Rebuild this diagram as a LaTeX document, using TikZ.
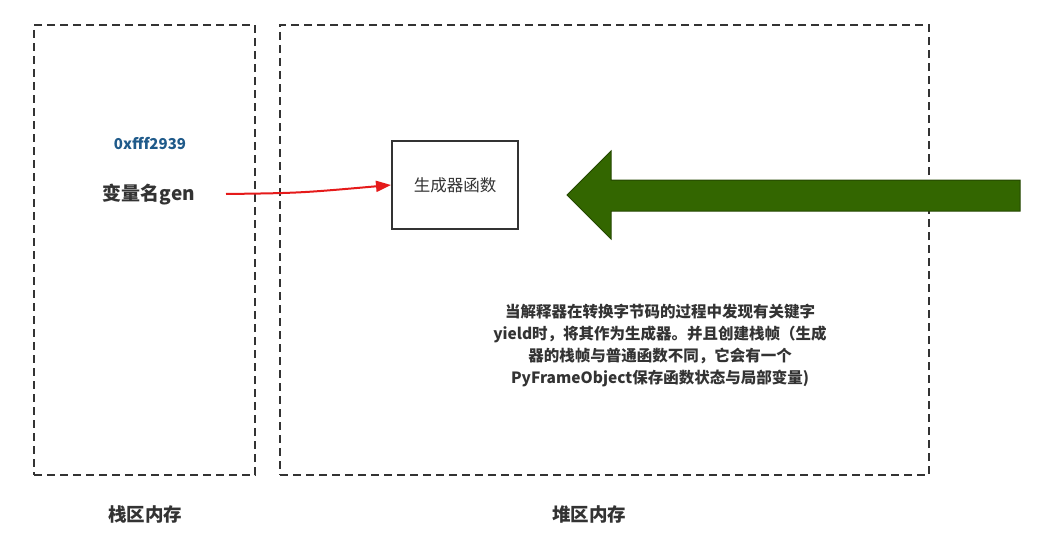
\documentclass[tikz,border=0pt]{standalone}
\usepackage{fontspec}
\setmainfont{Noto Sans CJK SC}
\usepackage{tikz}
\usetikzlibrary{arrows.meta}
\definecolor{txtgray}{HTML}{333333}
\definecolor{addrblue}{HTML}{1F5A8A}
\definecolor{arrowgreen}{HTML}{336600}
\definecolor{arrowred}{HTML}{E51A1A}

\begin{document}
\begin{tikzpicture}[x=1pt,y=-1pt,
memarea/.style={draw=txtgray,line width=2.2pt,dash pattern=on 8pt off 5pt,inner sep=0pt},
areaname/.style={font=\fontsize{18.5}{22}\selectfont\bfseries,text=txtgray},
funcbox/.style={draw=txtgray,line width=2pt,minimum width=126pt,minimum height=88pt,
  font=\fontsize{16.5}{20}\selectfont,text=txtgray}]
\useasboundingbox (0,0) rectangle (1059,538);
\node[memarea,minimum width=221pt,minimum height=450pt] (stack) at (144.5,250) {};
\node[memarea,minimum width=649pt,minimum height=450pt] (heap) at (604.5,250) {};
\node[areaname] (stackname) at (145,514) {栈区内存};
\node[areaname] (heapname) at (589,514) {堆区内存};
\node[font=\fontsize{15}{18}\selectfont\bfseries,text=addrblue] (addr) at (150,144) {0xfff2939};
\node[font=\fontsize{19}{22}\selectfont\bfseries,text=txtgray] (var) at (149,195) {变量名gen};
\node[funcbox] (gen) at (455,185) {生成器函数};
% big green arrow
\fill[arrowgreen,draw=arrowgreen!70!black,line width=1pt]
(567,195) -- (611,151) -- (611,180) -- (1020,180) -- (1020,211) -- (611,211) -- (611,239) -- cycle;
\node[font=\fontsize{15.5}{22}\selectfont\bfseries,text=txtgray,align=center] (note) at (660,346)
{当解释器在转换字节码的过程中发现有关键字\\
yield时，将其作为生成器。并且创建栈帧（生成\\
器的栈帧与普通函数不同，它会有一个\\
PyFrameObject保存函数状态与局部变量)};
\coordinate (varout) at (226,194);
\draw[arrowred,line width=2pt,-{Triangle[length=15pt,width=11pt]}]
(varout) .. controls (300,193) .. (gen.west);
\end{tikzpicture}
\end{document}
